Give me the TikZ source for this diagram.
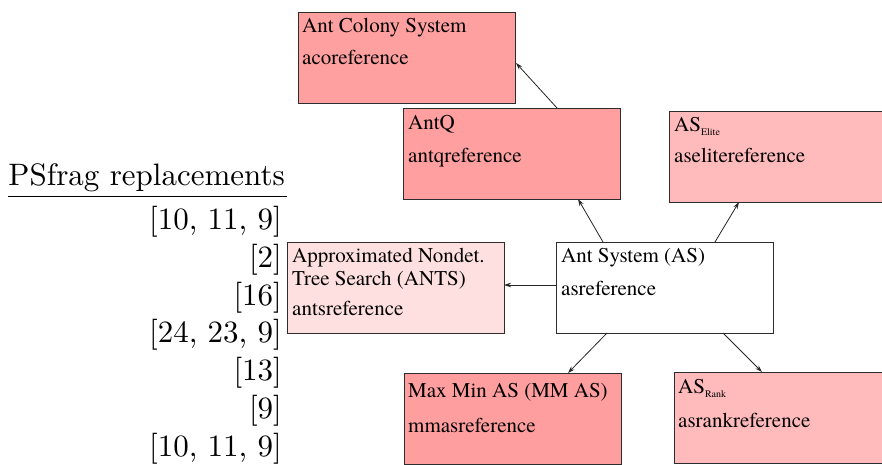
\documentclass[tikz,border=0pt]{standalone}
\usepackage{fontspec}
\newfontfamily\tms{TeX Gyre Termes}
\usetikzlibrary{arrows.meta,calc}
\definecolor{boxline}{RGB}{45,45,45}
\definecolor{cacs}{RGB}{255,160,160}
\definecolor{cantq}{RGB}{255,159,159}
\definecolor{cmmas}{RGB}{255,158,158}
\definecolor{celite}{RGB}{255,187,187}
\definecolor{crank}{RGB}{255,187,187}
\definecolor{cants}{RGB}{255,224,224}
\newcommand{\psbig}[1]{\scalebox{3.1}{\fontsize{10}{12}\selectfont #1}}
\begin{document}
\begin{tikzpicture}[x=1pt,y=-1pt,
  box/.style={draw=boxline, line width=0.9pt, minimum width=217pt, minimum height=91pt,
              anchor=north west, inner sep=0pt, outer sep=0pt},
  lbl/.style={anchor=base west, inner sep=0pt, font=\tms\fontsize{21}{25}\selectfont},
  arr/.style={draw=black!85, line width=0.8pt, -{Stealth[length=7pt,width=4.5pt]}},
  ps/.style={anchor=base east, inner sep=0pt}]
\useasboundingbox (0,0) rectangle (882,465);
\clip (0,0) rectangle (882,465);

% boxes
\node[box, fill=cacs]   (acs)   at (298,12)  {};
\node[box, fill=cantq]  (antq)  at (403,108) {};
\node[box, fill=celite] (elite) at (669,111) {};
\node[box, fill=cants]  (ants)  at (287,242) {};
\node[box, fill=white]  (as)    at (556,242) {};
\node[box, fill=cmmas]  (mmas)  at (404,373) {};
\node[box, fill=crank]  (rank)  at (674,372) {};

% box texts
\node[lbl] (acs1) at ($(acs.north west)+(4,21)$) {Ant Colony System};
\node[lbl] (acs2) at ($(acs.north west)+(4,53)$) {acoreference};
\node[lbl] (antq1) at ($(antq.north west)+(5,22)$) {AntQ};
\node[lbl] (antq2) at ($(antq.north west)+(5,54)$) {antqreference};
\node[lbl] (elite1) at ($(elite.north west)+(5,21)$) {AS\raisebox{-4pt}{\fontsize{10}{12}\selectfont Elite}};
\node[lbl] (elite2) at ($(elite.north west)+(5,52)$) {aselitereference};
\node[lbl] (ants1) at ($(ants.north west)+(5,20)$) {Approximated Nondet.};
\node[lbl] (ants2) at ($(ants.north west)+(5,43)$) {Tree Search (ANTS)};
\node[lbl] (ants3) at ($(ants.north west)+(5,73)$) {antsreference};
\node[lbl] (as1) at ($(as.north west)+(5,20)$) {Ant System (AS)};
\node[lbl] (as2) at ($(as.north west)+(5,53)$) {asreference};
\node[lbl] (mmas1) at ($(mmas.north west)+(4,24)$) {Max Min AS (MM AS)};
\node[lbl] (mmas2) at ($(mmas.north west)+(4,59)$) {mmasreference};
\node[lbl] (rank1) at ($(rank.north west)+(4,21)$) {AS\raisebox{-4pt}{\fontsize{10}{12}\selectfont Rank}};
\node[lbl] (rank2) at ($(rank.north west)+(4,55)$) {asrankreference};

% connectors
\draw[arr] ($(antq.north west)+(154,0)$) -- ($(acs.north east)+(1,51)$);
\draw[arr] ($(as.north west)+(47,0)$) -- ($(antq.south west)+(175,0)$);
\draw[arr] ($(as.north west)+(159,0)$) -- ($(elite.south west)+(70,0)$);
\draw[arr] ($(as.north west)+(0,43)$) -- ($(ants.north east)+(0,43)$);
\draw[arr] ($(as.south west)+(51,0)$) -- ($(mmas.north west)+(164,0)$);
\draw[arr] ($(as.south west)+(167,0)$) -- ($(rank.north west)+(88,0)$);

% PSfrag replacements list
\node[ps] (psh) at (285,185) {\psbig{PSfrag replacements}};
\draw[line width=1pt] (8,196) -- (287,196);
\node[ps] (r1) at (282,229) {\psbig{[10, 11, 9]}};
\node[ps] (r2) at (282,267) {\psbig{[2]}};
\node[ps] (r3) at (282,305) {\psbig{[16]}};
\node[ps] (r4) at (282,342) {\psbig{[24, 23, 9]}};
\node[ps] (r5) at (282,380) {\psbig{[13]}};
\node[ps] (r6) at (282,418) {\psbig{[9]}};
\node[ps] (r7) at (282,456) {\psbig{[10, 11, 9]}};
\end{tikzpicture}
\end{document}
